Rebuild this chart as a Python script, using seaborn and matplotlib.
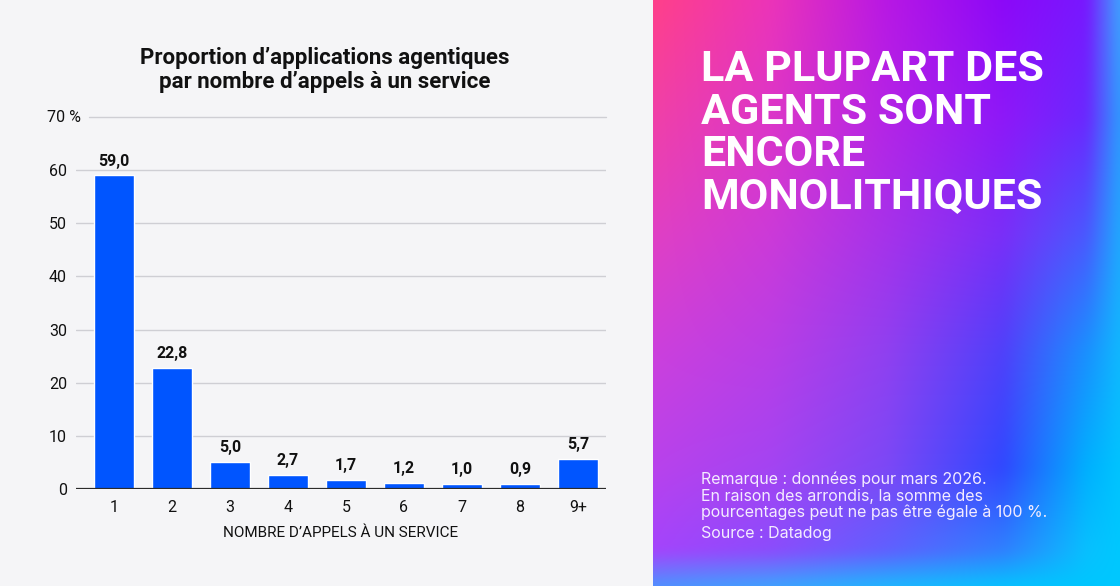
import numpy as np
import pandas as pd
import matplotlib
matplotlib.use("Agg")
import matplotlib.pyplot as plt
import seaborn as sns

# ---------------- data ----------------
categories = ["1", "2", "3", "4", "5", "6", "7", "8", "9+"]
values = [59.0, 22.8, 5.0, 2.7, 1.7, 1.2, 1.0, 0.9, 5.7]
value_labels = [f"{v:.1f}".replace(".", ",") for v in values]
y_ticks = [0, 10, 20, 30, 40, 50, 60]
y_tick_labels = ["0", "10", "20", "30", "40", "50", "60"]
top_tick_label = "70 %"
title_lines = ["Proportion d’applications agentiques", "par nombre d’appels à un service"]
x_label = "NOMBRE D’APPELS À UN SERVICE"
headline_lines = ["LA PLUPART DES", "AGENTS SONT", "ENCORE", "MONOLITHIQUES"]
note_lines = ["Remarque : données pour mars 2026.",
              "En raison des arrondis, la somme des",
              "pourcentages peut ne pas être égale à 100 %."]
source_line = "Source : Datadog"

sns.set_theme(style="white")
plt.rcParams["font.family"] = ["Roboto", "DejaVu Sans"]

W, H = 1120, 586
fig = plt.figure(figsize=(W / 100, H / 100), dpi=100)
fig.patch.set_facecolor("#f5f5f7")

def fx(px):
    return px / W

def fy(py):
    return 1 - py / H

# ---------------- chart ----------------
ax = fig.add_axes([fx(76), fy(489), fx(606 - 76), (489 - 117) / H])
ax.set_facecolor("#f5f5f7")
df = pd.DataFrame({"cat": categories, "val": values})
sns.barplot(data=df, x="cat", y="val", color="#0055ff", saturation=1,
            width=0.69, ax=ax, zorder=3)
ax.set_xlim(-0.655, 8.483)
ax.set_ylim(0, 70)
ax.set_yticks(y_ticks)
ax.set_yticklabels(y_tick_labels)
for s in ax.spines.values():
    s.set_visible(False)
ax.yaxis.grid(True, color="#cfcfd4", lw=1, zorder=0)
ax.set_axisbelow(True)
ax.axhline(70, xmin=(89 - 76) / (606 - 76), xmax=1, color="#cfcfd4", lw=1,
           clip_on=False, zorder=0)
ax.axhline(0, color="#2b2b2b", lw=1.6, zorder=4)
ax.tick_params(axis="y", length=0, pad=6.5, labelsize=11.5, labelcolor="#111111")
ax.tick_params(axis="x", length=0, pad=8, labelsize=11.5, labelcolor="#111111")
ax.set_xlabel(x_label, fontsize=11, color="#111111", labelpad=8)
ax.set_ylabel("")
ax.bar_label(ax.containers[0], labels=value_labels, padding=5,
             fontweight="bold", fontsize=11.5, color="#111111")
fig.text(fx(47), fy(117), top_tick_label, ha="left", va="center",
         fontsize=11.5, color="#111111")

fig.text(fx(325), fy(58), title_lines[0], ha="center", va="center",
         fontsize=16, fontweight="bold", color="#111111")
fig.text(fx(325), fy(82), title_lines[1], ha="center", va="center",
         fontsize=16, fontweight="bold", color="#111111")

# ---------------- gradient panel ----------------
pw, ph = 467, 586
us = np.array([0, 0.25, 0.5, 0.75, 0.93, 1.0])
vs = np.array([0, 0.2, 0.4, 0.6, 0.8, 0.94, 1.0])
grid_hex = [
    ["#ff408a", "#ec34b8", "#b818e4", "#8c08f8", "#7818ff", "#40a0ff"],
    ["#f040a8", "#dc36c8", "#b424e6", "#8e18f8", "#6a28ff", "#3098ff"],
    ["#e040c4", "#cc3ad8", "#a632ea", "#7a2ef8", "#4a58ff", "#20a8ff"],
    ["#cc40dc", "#b83ee6", "#9040f0", "#5040fa", "#1a90ff", "#10b8ff"],
    ["#b842ec", "#a444f2", "#7c48f6", "#3048ff", "#00b0ff", "#00c4ff"],
    ["#a444fc", "#8c4cfc", "#6060ff", "#3080ff", "#08c0ff", "#00c8ff"],
    ["#5090ff", "#40a0ff", "#20b4ff", "#08c0ff", "#00c6ff", "#00c8ff"],
]
G = np.array([[matplotlib.colors.to_rgb(c) for c in row] for row in grid_hex])
upix = np.linspace(0, 1, pw)
vpix = np.linspace(0, 1, ph)
R = np.zeros((len(vs), pw, 3))
for r in range(len(vs)):
    for c in range(3):
        R[r, :, c] = np.interp(upix, us, G[r, :, c])
img = np.zeros((ph, pw, 3))
for x in range(pw):
    for c in range(3):
        img[:, x, c] = np.interp(vpix, vs, R[:, x, c])
k = np.ones(15) / 15
for c in range(3):
    img[:, :, c] = np.apply_along_axis(lambda m: np.convolve(np.pad(m, 7, mode="edge"), k, "valid"), 0, img[:, :, c])
    img[:, :, c] = np.apply_along_axis(lambda m: np.convolve(np.pad(m, 7, mode="edge"), k, "valid"), 1, img[:, :, c])

rp = fig.add_axes([fx(653), 0, fx(pw), 1])
rp.imshow(img, aspect="auto", extent=[0, 1, 0, 1], origin="upper", interpolation="bilinear")
rp.set_axis_off()

for line, base in zip(headline_lines, [81, 124, 166, 209]):
    fig.text(fx(701), fy(base), line, ha="left", va="baseline",
             fontsize=31, fontweight="bold", color="white")

for line, base in zip(note_lines, [484, 500.5, 517]):
    fig.text(fx(701), fy(base), line, ha="left", va="baseline",
             fontsize=11.5, color="#f4ecff", family=["Inter", "DejaVu Sans"])
fig.text(fx(701), fy(538), source_line, ha="left", va="baseline",
         fontsize=11.5, color="#f4ecff", family=["Inter", "DejaVu Sans"])

fig.savefig("out.png", dpi=100, facecolor=fig.get_facecolor())
